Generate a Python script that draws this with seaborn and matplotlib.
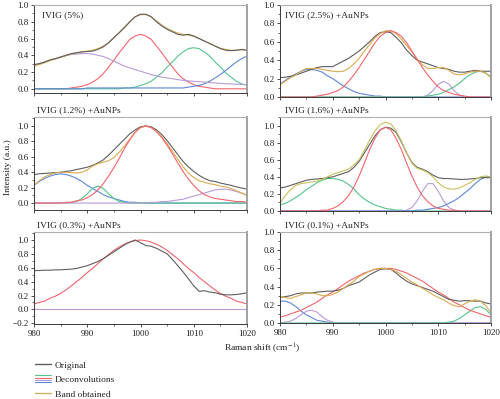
import matplotlib
matplotlib.use("Agg")
import matplotlib.pyplot as plt
import seaborn as sns
from matplotlib.lines import Line2D
from matplotlib.legend_handler import HandlerBase
from matplotlib.ticker import MultipleLocator

# Raman shift axis (cm-1), one reading per wavenumber
raman = list(range(980, 1021))

# IVIG (5%)
p5_orig = [.29, .30, .32, .345, .36, .38, .40, .42, .43, .44,
           .445, .45, .47, .50, .55, .61, .67, .73, .80, .86,
           .89, .89, .86, .80, .75, .71, .68, .65, .64, .65,
           .63, .60, .57, .54, .51, .48, .46, .455, .46, .47, .46]
p5_band = [.27, .29, .31, .335, .355, .375, .395, .415, .43, .44,
           .45, .46, .48, .51, .55, .61, .67, .74, .80, .86,
           .885, .885, .86, .81, .76, .72, .69, .665, .65, .64,
           .625, .60, .57, .54, .51, .485, .47, .46, .46, .465, .46]
p5_red = [0, 0, 0, 0, 0, 0, 0, .01, .02, .03,
          .05, .08, .12, .18, .26, .34, .43, .51, .59, .63,
          .65, .63, .59, .51, .43, .34, .26, .18, .12, .08,
          .05, .03, .02, .01, 0, 0, 0, 0, 0, 0, 0]
p5_green = [0] * 10 + [0, 0, 0, 0, 0, 0, 0, .01, .01, .02,
                       .04, .06, .09, .14, .19, .26, .32, .39, .44, .48,
                       .49, .48, .44, .39, .32, .26, .19, .14, .09, .06, .04]
p5_blue = [0] * 10 + [.01] * 10 + [.01, .01, .01, .01, .01, .01, .01, .01, .01, .02,
                                   .03, .04, .06, .09, .13, .17, .22, .27, .32, .36, .39]
p5_purple = [.28, .30, .32, .34, .36, .38, .395, .41, .415, .42,
             .42, .415, .40, .385, .36, .33, .30, .27, .25, .23,
             .21, .19, .17, .155, .14, .13, .12, .11, .10, .095,
             .09, .085, .08, .075, .07, .065, .06, .058, .055, .052, .05]

# IVIG (2.5%) +AuNPs
p25_orig = [.21, .215, .225, .24, .26, .28, .30, .32, .33, .33,
            .33, .36, .39, .42, .46, .50, .55, .60, .66, .70,
            .71, .70, .65, .59, .51, .45, .40, .38, .36, .34,
            .32, .31, .30, .28, .27, .27, .28, .29, .28, .28, .28]
p25_band = [.135, .17, .21, .24, .28, .31, .31, .31, .30, .29,
            .28, .275, .28, .31, .36, .42, .50, .57, .64, .69,
            .72, .72, .69, .63, .56, .49, .41, .35, .31, .31,
            .32, .32, .29, .25, .24, .25, .27, .28, .28, .26, .22]
p25_blue = [.14, .18, .22, .25, .28, .30, .30, .29, .27, .23,
            .20, .16, .12, .09, .06, .04, .03, .02, .01, .01] + [0] * 21
p25_red = [0, 0, 0, 0, 0, 0, 0, .01, .02, .03,
           .05, .07, .11, .17, .24, .32, .41, .50, .59, .66,
           .70, .72, .70, .66, .59, .50, .41, .32, .24, .17,
           .11, .07, .05, .03, .02, .01, 0, 0, 0, 0, 0]
p25_purple = [0] * 28 + [.02, .07, .14, .17, .14, .07, .02] + [0] * 6
p25_green = [0] * 28 + [.01, .02, .03, .05, .08, .11, .15, .20, .24, .27, .28, .26, .21]

# IVIG (1.2%) +AuNPs
p12_orig = [.37, .38, .385, .39, .395, .40, .41, .42, .435, .45,
            .465, .49, .52, .56, .62, .69, .76, .83, .90, .95,
            .99, 1.0, .99, .95, .89, .81, .72, .63, .54, .47,
            .41, .36, .32, .29, .28, .26, .245, .23, .21, .195, .18]
p12_band = [.23, .29, .34, .37, .39, .40, .40, .395, .39, .40,
            .43, .48, .51, .53, .55, .59, .66, .74, .83, .92,
            .98, 1.0, .98, .93, .86, .77, .67, .57, .47, .39,
            .33, .29, .27, .25, .24, .22, .21, .19, .16, .13, .10]
p12_blue = [.23, .28, .32, .35, .37, .38, .37, .35, .32, .28,
            .23, .19, .15, .11, .08, .06, .04, .02, .01, .01] + [0] * 21
p12_green = [0, 0, 0, 0, 0, 0, 0, .01, .02, .06,
             .12, .19, .22, .19, .12, .06, .02, .01, 0, 0] + [0] * 21
p12_red = [0, 0, 0, 0, 0, 0, .01, .01, .03, .04,
           .07, .11, .17, .25, .35, .46, .58, .71, .82, .92,
           .98, 1.0, .98, .93, .85, .75, .64, .52, .41, .31,
           .23, .16, .11, .08, .06, .05, .04, .03, .02, .02, .01]
p12_purple = [0] * 20 + [0, 0, .01, .01, .02, .02, .03, .04, .05, .07,
                         .09, .11, .13, .15, .17, .18, .18, .17, .15, .13, .10]

# IVIG (1.6%) +AuNPs
p16_orig = [.27, .28, .30, .32, .34, .36, .37, .375, .38, .39,
            .40, .42, .44, .46, .51, .58, .68, .78, .88, .95,
            .98, .97, .92, .81, .68, .57, .51, .49, .46, .42,
            .39, .38, .38, .375, .37, .37, .375, .38, .39, .39, .39]
p16_band = [.09, .18, .25, .30, .32, .33, .34, .35, .37, .40,
            .43, .45, .47, .49, .54, .60, .71, .83, .94, 1.01,
            1.04, 1.02, .94, .82, .68, .56, .50, .48, .45, .40,
            .33, .28, .26, .255, .27, .30, .33, .37, .40, .41, .40]
p16_green = [.07, .09, .12, .16, .20, .25, .29, .33, .36, .38,
             .38, .37, .35, .31, .26, .19, .14, .10, .07, .05,
             .03, .02, .01, .01, 0, 0, 0, 0, 0, 0] + [0] * 11
p16_red = [0, 0, 0, 0, 0, 0, 0, 0, .01, .01,
           .03, .06, .11, .18, .28, .41, .56, .72, .85, .95,
           .98, .95, .85, .72, .56, .41, .28, .18, .11, .06,
           .03, .02, .01, .01, 0, 0, 0, 0, 0, 0, 0]
p16_purple = [0] * 23 + [0, .01, .04, .12, .23, .32, .32, .23, .12, .04, .01] + [0] * 7
p16_blue = [0] * 25 + [0, .01, .01, .02, .03, .04, .06, .09, .12, .16,
                       .21, .26, .32, .37, .40, .40]

# IVIG (0.3%) +AuNPs
p03_orig = [.56, .56, .565, .565, .57, .57, .575, .58, .59, .61,
            .63, .66, .69, .73, .78, .83, .88, .93, .97, 1.0,
            .96, .92, .91, .88, .84, .80, .72, .63, .54, .44,
            .34, .26, .27, .25, .24, .22, .21, .21, .215, .225, .24]
p03_red = [.08, .10, .12, .16, .19, .23, .28, .34, .40, .46,
           .53, .59, .66, .73, .79, .85, .90, .94, .97, .99,
           1.0, .99, .97, .94, .90, .85, .79, .73, .66, .59,
           .53, .46, .40, .34, .28, .23, .19, .16, .12, .10, .08]
p03_purple = [0] * 41

# IVIG (0.1%) +AuNPs
p01_orig = [.28, .29, .30, .32, .33, .33, .33, .34, .345, .35,
            .35, .36, .38, .41, .43, .45, .49, .53, .56, .59,
            .595, .59, .55, .50, .46, .43, .41, .39, .37, .35,
            .32, .29, .26, .25, .24, .245, .245, .24, .24, .22, .21]
p01_band = [.29, .28, .27, .29, .31, .33, .33, .32, .30, .30,
            .315, .34, .38, .42, .46, .51, .54, .57, .59, .60,
            .60, .59, .57, .53, .49, .45, .42, .38, .35, .31,
            .28, .255, .22, .19, .18, .21, .24, .255, .24, .19, .115]
p01_red = [.065, .08, .10, .12, .14, .17, .20, .23, .27, .31,
           .34, .38, .42, .46, .49, .52, .55, .57, .59, .60,
           .60, .60, .59, .57, .55, .52, .49, .46, .42, .38,
           .34, .31, .27, .23, .20, .17, .14, .12, .10, .08, .065]
p01_blue = [.24, .24, .22, .18, .13, .09, .06, .03, .02, .01] + [0] * 31
p01_purple = [0, .01, .02, .05, .09, .13, .14, .12, .07, .03, .01] + [0] * 30
p01_green = [0] * 31 + [0, .01, .02, .05, .09, .13, .17, .18, .15, .09]

sns.set_theme(style="ticks")
plt.rcParams['font.family'] = ['Liberation Serif', 'DejaVu Serif']
plt.rcParams['mathtext.fontset'] = 'stix'

c_orig = '#5e5e5e'
c_red = '#f2646c'
c_green = '#55c48c'
c_blue = '#5b88d8'
c_purple = '#b99bd9'
c_band = '#dcaa50'
c_band2 = '#c8c05c'

fig = plt.figure(figsize=(5.0, 3.99), dpi=100)
W, H = 500.0, 399.0

def box(x0, y0, x1, y1):
    return [x0 / W, 1 - y1 / H, (x1 - x0) / W, (y1 - y0) / H]

panels = [
    ("IVIG (5%)", box(34, 5, 247, 93), (-0.05, 1.0), (42, 15), False,
     [(p5_red, c_red), (p5_green, c_green), (p5_blue, c_blue), (p5_purple, c_purple),
      (p5_band, c_band), (p5_orig, c_orig)]),
    ("IVIG (2.5%) +AuNPs", box(280, 5, 491, 97), (0, 1.0), (285, 15), False,
     [(p25_blue, c_blue), (p25_purple, c_purple), (p25_green, c_green),
      (p25_orig, c_orig), (p25_band, c_band), (p25_red, c_red)]),
    ("IVIG (1.2%) +AuNPs", box(34, 117, 247, 210), (-0.09, 1.117), (37, 110), False,
     [(p12_blue, c_blue), (p12_green, c_green), (p12_purple, c_purple),
      (p12_orig, c_orig), (p12_band, c_band), (p12_red, c_red)]),
    ("IVIG (1.6%) +AuNPs", box(280, 117, 491, 211), (0, 1.1), (285, 110), False,
     [(p16_green, c_green), (p16_purple, c_purple), (p16_blue, c_blue),
      (p16_orig, c_orig), (p16_band, c_band2), (p16_red, c_red)]),
    ("IVIG (0.3%) +AuNPs", box(34, 232, 247, 324), (-0.21, 1.115), (37, 225), True,
     [(p03_purple, c_purple), (p03_red, c_red), (p03_orig, c_orig)]),
    ("IVIG (0.1%) +AuNPs", box(280, 232, 491, 323), (0, 1.0), (285, 225), True,
     [(p01_blue, c_blue), (p01_purple, c_purple), (p01_green, c_green),
      (p01_red, c_red), (p01_orig, c_orig), (p01_band, c_band)]),
]

for title, pos, ylim, txy, bottom, curves in panels:
    ax = fig.add_axes(pos)
    for vals, col in curves:
        sns.lineplot(x=raman, y=vals, ax=ax, color=col, linewidth=0.8, legend=False)
    ax.set_xlim(980, 1020)
    ax.set_ylim(*ylim)
    ax.set_xlabel('')
    ax.set_ylabel('')
    ax.xaxis.set_major_locator(MultipleLocator(10))
    ax.xaxis.set_minor_locator(MultipleLocator(5))
    ax.yaxis.set_major_locator(MultipleLocator(0.2))
    ax.yaxis.set_minor_locator(MultipleLocator(0.1))
    ax.yaxis.set_major_formatter(plt.FuncFormatter(lambda v, p: f"{v:.1f}".replace('-', '\u2212')))
    ax.tick_params(which='major', direction='out', length=2.5, width=0.6, labelsize=6.5,
                   pad=1.5, colors='#333333', labelcolor='#222222')
    ax.tick_params(which='minor', direction='out', length=1.3, width=0.5, colors='#333333')
    ax.tick_params(axis='x', labelbottom=bottom)
    for s in ('left', 'bottom'):
        ax.spines[s].set_color('#3a3a3a')
        ax.spines[s].set_linewidth(0.7)
    ax.spines['right'].set_color('#a0a0a0')
    ax.spines['right'].set_linewidth(1.4)
    ax.spines['top'].set_color('#b0b0b0')
    ax.spines['top'].set_linewidth(0.8)
    fig.text(txy[0] / W, 1 - txy[1] / H, title, fontsize=6.8, ha='left', va='center', color='#222222')

fig.text(8 / W, 1 - 167 / H, 'Intensity (a.u.)', rotation=90, fontsize=6.8,
         ha='center', va='center', color='#222222')
fig.text(262 / W, 1 - 348 / H, 'Raman shift (cm$^{-1}$)', fontsize=6.8,
         ha='center', va='center', color='#222222')


class StackHandler(HandlerBase):
    # draws several short lines stacked on top of each other
    def create_artists(self, legend, orig_handle, xdescent, ydescent, width, height, fontsize, trans):
        out = []
        n = len(orig_handle)
        for i, h in enumerate(orig_handle):
            y = height * (1.0 - 1.0 * i / (n - 1)) - ydescent
            out.append(Line2D([-xdescent, width - xdescent], [y, y], color=h.get_color(),
                              lw=h.get_linewidth(), transform=trans))
        return out


h_orig = Line2D([], [], color=c_orig, lw=1.0)
h_dec = tuple(Line2D([], [], color=c, lw=0.8) for c in (c_green, c_red, c_purple, c_blue))
h_band = Line2D([], [], color='#c8b45c', lw=1.0)
fig.legend([h_orig, h_dec, h_band], ['Original', 'Deconvolutions', 'Band obtained'],
           handler_map={tuple: StackHandler()}, loc='upper left',
           bbox_to_anchor=(35 / W, 1 - 361 / H), bbox_transform=fig.transFigure,
           frameon=False, fontsize=6.8, handlelength=1.7, handletextpad=0.4,
           labelspacing=0.62, borderpad=0, borderaxespad=0)

fig.savefig('out.png', dpi=100)
